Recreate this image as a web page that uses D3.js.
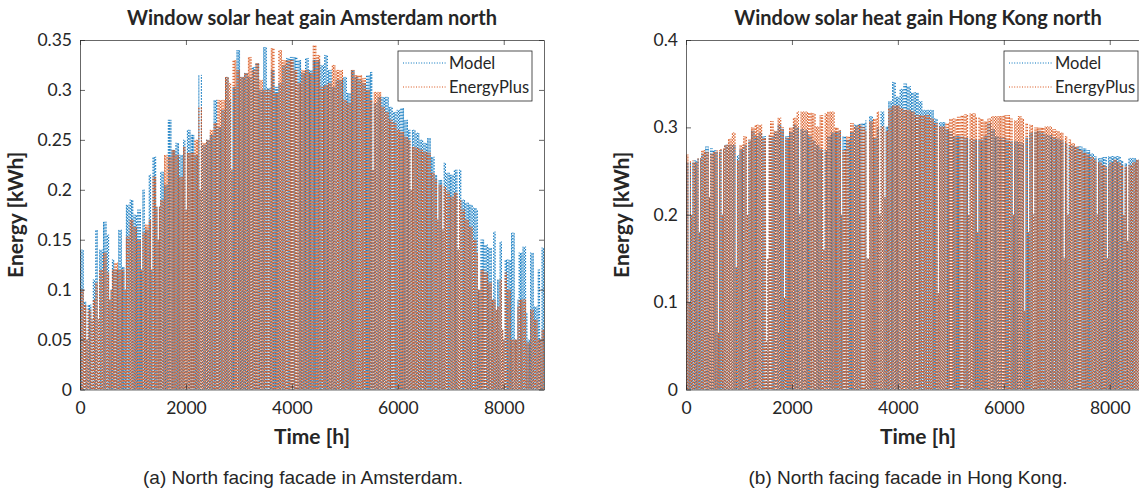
<!DOCTYPE html>
<html>
<head>
<meta charset="utf-8">
<script src="https://cdn.jsdelivr.net/npm/d3@7"></script>
<style>
  body { margin: 0; background: #fff; }
  svg text { fill: #262626; }
</style>
</head>
<body>
<svg id="chart" width="1139" height="491"></svg>
<script>
// Peak hourly window solar heat gain [kWh], one value per 3-day block (72 h) of the year.
const BLOCK_HOURS = 72;

const amsModel = [0.14,0.088,0.085,0.11,0.16,0.14,0.168,0.155,0.13,0.12,0.16,0.123,0.185,0.19,0.175,0.18,0.2,0.16,0.215,0.233,
  0.183,0.218,0.205,0.27,0.24,0.247,0.235,0.25,0.26,0.255,0.235,0.315,0.245,0.25,0.255,0.29,0.263,0.28,0.313,0.29,
  0.303,0.34,0.313,0.317,0.313,0.323,0.327,0.3,0.343,0.302,0.32,0.303,0.307,0.325,0.332,0.333,0.333,0.33,0.317,0.332,
  0.32,0.33,0.33,0.325,0.335,0.32,0.303,0.31,0.31,0.313,0.297,0.32,0.313,0.31,0.307,0.315,0.318,0.287,0.293,0.293,
  0.293,0.283,0.278,0.28,0.282,0.27,0.26,0.26,0.257,0.25,0.247,0.252,0.233,0.215,0.21,0.227,0.217,0.215,0.22,0.22,
  0.19,0.187,0.185,0.182,0.18,0.15,0.145,0.142,0.158,0.11,0.148,0.13,0.13,0.157,0.09,0.137,0.143,0.077,0.137,0.083,
  0.12,0.142];
const amsEplus = [0.1,0.085,0.08,0.09,0.107,0.12,0.137,0.117,0.12,0.127,0.12,0.12,0.153,0.17,0.163,0.15,0.157,0.165,0.17,0.213,
  0.183,0.19,0.235,0.233,0.24,0.235,0.213,0.243,0.237,0.237,0.25,0.283,0.247,0.25,0.26,0.267,0.29,0.29,0.313,0.307,
  0.33,0.32,0.313,0.317,0.333,0.32,0.327,0.31,0.3,0.3,0.342,0.297,0.34,0.33,0.33,0.33,0.32,0.307,0.32,0.32,
  0.317,0.345,0.335,0.303,0.305,0.307,0.325,0.32,0.32,0.29,0.287,0.32,0.315,0.315,0.312,0.3,0.29,0.298,0.298,0.283,
  0.278,0.27,0.267,0.26,0.258,0.253,0.25,0.243,0.242,0.24,0.238,0.237,0.217,0.21,0.205,0.203,0.198,0.193,0.197,0.19,
  0.18,0.17,0.163,0.15,0.137,0.12,0.117,0.107,0.09,0.083,0.11,0.117,0.1,0.05,0.083,0.09,0.09,0.047,0.08,0.07,
  0.05,0.06];
// Overcast days: [day of year, peak kWh]
const amsDullDays = [[5,0.05],[9,0.07],[14,0.07],[23,0.09],[24,0.1],[35,0.1],[48,0.12],[56,0.12],[61,0.15],[83,0.18],
  [94,0.2],[119,0.22],[230,0.22],[260,0.2],[281,0.17],[285,0.16],[297,0.14],[313,0.1],[314,0.1],[324,0.09],
  [327,0.08],[332,0.06],[333,0.05],[342,0.05],[343,0.05],[352,0.05],[353,0.05],[362,0.05]];

const hkModel = [0.26,0.26,0.262,0.265,0.27,0.278,0.276,0.274,0.272,0.275,0.28,0.28,0.28,0.268,0.275,0.28,0.285,0.296,0.29,0.294,
  0.29,0.29,0.29,0.295,0.303,0.298,0.29,0.295,0.303,0.3,0.298,0.297,0.29,0.285,0.28,0.275,0.274,0.29,0.294,0.295,
  0.296,0.29,0.286,0.295,0.303,0.304,0.305,0.308,0.313,0.288,0.3,0.318,0.301,0.33,0.352,0.335,0.344,0.35,0.347,0.34,
  0.34,0.33,0.32,0.32,0.32,0.31,0.306,0.306,0.298,0.295,0.29,0.29,0.29,0.288,0.287,0.286,0.286,0.286,0.29,0.305,
  0.298,0.29,0.288,0.288,0.285,0.284,0.284,0.283,0.282,0.288,0.294,0.295,0.296,0.294,0.292,0.291,0.289,0.287,0.285,0.282,
  0.28,0.279,0.278,0.278,0.276,0.274,0.27,0.267,0.265,0.266,0.267,0.267,0.267,0.267,0.262,0.259,0.265,0.265,0.263,0.262,
  0.26,0.26];
const hkEplus = [0.269,0.262,0.26,0.265,0.274,0.272,0.27,0.272,0.274,0.276,0.28,0.287,0.294,0.262,0.28,0.29,0.286,0.3,0.303,0.303,
  0.288,0.292,0.307,0.296,0.311,0.3,0.288,0.3,0.311,0.318,0.318,0.318,0.317,0.316,0.301,0.314,0.316,0.318,0.318,0.3,
  0.297,0.274,0.29,0.305,0.301,0.303,0.3,0.296,0.307,0.31,0.318,0.301,0.296,0.322,0.325,0.325,0.322,0.32,0.32,0.318,
  0.314,0.314,0.314,0.314,0.31,0.305,0.301,0.301,0.305,0.31,0.31,0.312,0.314,0.315,0.316,0.316,0.312,0.31,0.307,0.31,
  0.313,0.313,0.313,0.314,0.314,0.31,0.308,0.313,0.31,0.305,0.303,0.3,0.3,0.3,0.301,0.301,0.298,0.296,0.294,0.29,
  0.286,0.282,0.278,0.274,0.271,0.269,0.266,0.263,0.26,0.257,0.255,0.26,0.263,0.26,0.257,0.255,0.257,0.26,0.263,0.26,
  0.26,0.258];
const hkDullDays = [[2,0.1],[4,0.2],[10,0.18],[18,0.22],[25,0.065],[28,0.2],[39,0.14],[48,0.2],[63,0.055],[64,0.15],
  [77,0.105],[89,0.2],[108,0.16],[122,0.2],[142,0.15],[143,0.15],[152,0.2],[156,0.22],[198,0.11],[222,0.2],
  [229,0.18],[257,0.2],[266,0.09],[269,0.18],[273,0.2],[297,0.15],[300,0.2],[323,0.2],[331,0.15],[344,0.2],[347,0.17]];

const xTicks = [0, 2000, 4000, 6000, 8000];
const amsYTicks = [0, 0.05, 0.1, 0.15, 0.2, 0.25, 0.3, 0.35];
const hkYTicks = [0, 0.1, 0.2, 0.3, 0.4];
const seriesNames = ["Model", "EnergyPlus"];
const seriesColors = ["#0072BD", "#D95319"];

const panels = [
  { title: "Window solar heat gain Amsterdam north", caption: "(a) North facing facade in Amsterdam.",
    series: [amsModel, amsEplus], dull: amsDullDays, yMax: 0.35, yTicks: amsYTicks,
    left: 80, right: 544, top: 40, bottom: 389.5, capX: 303 },
  { title: "Window solar heat gain Hong Kong north", caption: "(b) North facing facade in Hong Kong.",
    series: [hkModel, hkEplus], dull: hkDullDays, yMax: 0.4, yTicks: hkYTicks,
    left: 686, right: 1150, top: 40, bottom: 389.5, capX: 908 }
];

const svg = d3.select("#chart");
const fontMain = "Lato, 'Open Sans', sans-serif";

// Hourly profile: zero at night, a single daytime peak per day.
function hourlyPoints(blocks, dull) {
  const days = d3.range(365).map(d => blocks[Math.floor(d * 24 / BLOCK_HOURS)]);
  dull.forEach(([d, v]) => { days[d] = Math.min(days[d], v); });
  const pts = [[0, 0]];
  days.forEach((p, d) => { pts.push([24 * d + 6, 0], [24 * d + 12, p], [24 * d + 18, 0]); });
  pts.push([8760, 0]);
  return pts;
}

panels.forEach((p, i) => {
  const x = d3.scaleLinear().domain([0, 8760]).range([p.left, p.right]);
  const y = d3.scaleLinear().domain([0, p.yMax]).range([p.bottom, p.top]);
  const g = svg.append("g");

  const clipId = "clip" + i;
  svg.append("clipPath").attr("id", clipId).append("rect")
    .attr("x", p.left).attr("y", p.top).attr("width", p.right - p.left).attr("height", p.bottom - p.top);

  const line = d3.line().x(d => x(d[0])).y(d => y(d[1]));
  const plot = g.append("g").attr("clip-path", `url(#${clipId})`);
  p.series.forEach((s, k) => {
    plot.append("path")
      .datum(hourlyPoints(s, p.dull))
      .attr("d", line)
      .attr("fill", "none")
      .attr("stroke", seriesColors[k])
      .attr("stroke-width", 0.9)
      .attr("stroke-dasharray", "1.2 1.8");
  });

  // Axes with inward ticks on all four sides
  const axisStyle = sel => {
    sel.selectAll("path.domain").attr("stroke", "#262626").attr("stroke-width", 0.7);
    sel.selectAll(".tick line").attr("stroke", "#262626").attr("stroke-width", 0.7);
    sel.selectAll("text").attr("font-family", fontMain).attr("font-size", 17.5).attr("fill", "#262626");
  };
  g.append("g").attr("transform", `translate(0,${p.bottom})`)
    .call(d3.axisBottom(x).tickValues(xTicks).tickSizeInner(-5).tickSizeOuter(0).tickPadding(12).tickFormat(d3.format("d")))
    .call(axisStyle);
  g.append("g").attr("transform", `translate(0,${p.top})`)
    .call(d3.axisTop(x).tickValues(xTicks).tickSizeInner(-5).tickSizeOuter(0).tickFormat(""))
    .call(axisStyle);
  g.append("g").attr("transform", `translate(${p.left},0)`)
    .call(d3.axisLeft(y).tickValues(p.yTicks).tickSizeInner(-5).tickSizeOuter(0).tickPadding(8).tickFormat(d => d === 0 ? "0" : String(+d.toFixed(2))))
    .call(axisStyle);
  g.append("g").attr("transform", `translate(${p.right},0)`)
    .call(d3.axisRight(y).tickValues(p.yTicks).tickSizeInner(-5).tickSizeOuter(0).tickFormat(""))
    .call(axisStyle);

  const cx = (p.left + p.right) / 2;
  g.append("text").attr("x", cx).attr("y", 25).attr("text-anchor", "middle")
    .attr("font-family", fontMain).attr("font-weight", "bold").attr("font-size", 20).text(p.title);
  g.append("text").attr("x", cx).attr("y", 444).attr("text-anchor", "middle")
    .attr("font-family", fontMain).attr("font-weight", "bold").attr("font-size", 21).text("Time [h]");
  g.append("text").attr("transform", `translate(${p.left - 57},${(p.top + p.bottom) / 2}) rotate(-90)`)
    .attr("text-anchor", "middle").attr("font-family", fontMain).attr("font-weight", "bold").attr("font-size", 21)
    .text("Energy [kWh]");
  g.append("text").attr("x", p.capX).attr("y", 484).attr("text-anchor", "middle")
    .attr("font-family", "'Liberation Sans', Arial, sans-serif").attr("font-size", 19).text(p.caption);

  // Legend
  const lx = p.right - 146, ly = 51;
  const lg = g.append("g");
  lg.append("rect").attr("x", lx).attr("y", ly).attr("width", 134).attr("height", 50)
    .attr("fill", "#fff").attr("stroke", "#262626").attr("stroke-width", 0.8);
  seriesNames.forEach((n, k) => {
    const yy = ly + 12 + k * 24;
    lg.append("line").attr("x1", lx + 5).attr("x2", lx + 49).attr("y1", yy).attr("y2", yy)
      .attr("stroke", seriesColors[k]).attr("stroke-width", 1).attr("stroke-dasharray", "1 1.6");
    lg.append("text").attr("x", lx + 51).attr("y", yy + 6).attr("font-family", fontMain).attr("font-size", 16.5).text(n);
  });
});
</script>
</body>
</html>
